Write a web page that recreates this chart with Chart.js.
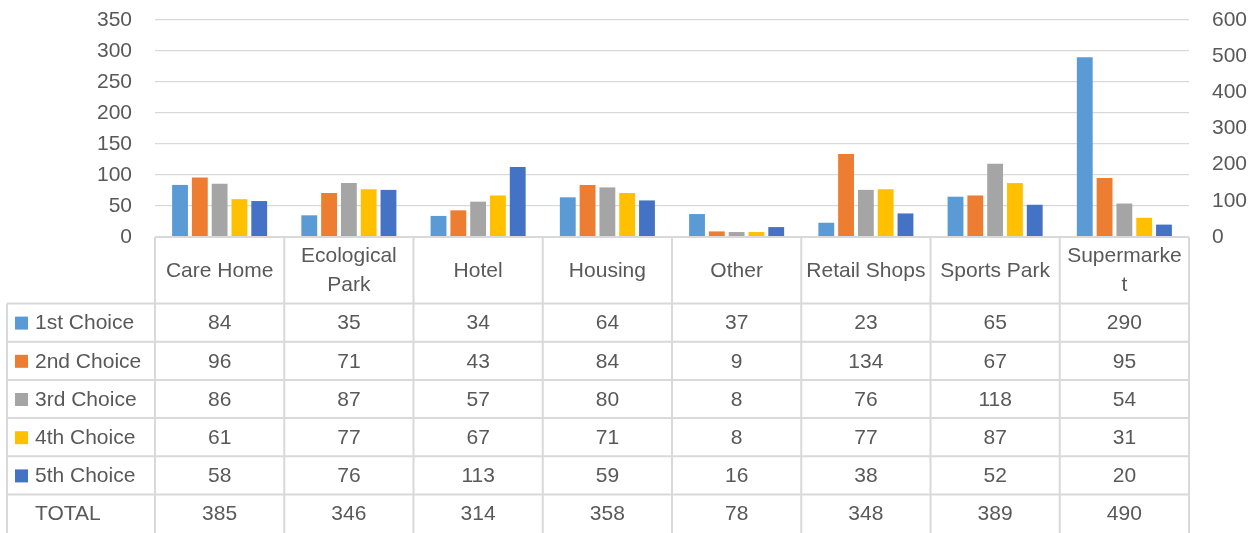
<!DOCTYPE html>
<html>
<head>
<meta charset="utf-8">
<script src="https://cdn.jsdelivr.net/npm/chart.js@4"></script>
<style>
  html, body { margin: 0; padding: 0; background: #fff; }
  #wrap { width: 1260px; height: 533px; position: relative; }
</style>
</head>
<body>
<div id="wrap"><canvas id="c"></canvas></div>
<script>
const categories = ['Care Home', ['Ecological', 'Park'], 'Hotel', 'Housing', 'Other', 'Retail Shops', 'Sports Park', ['Supermarke', 't']];
const seriesNames = ['1st Choice', '2nd Choice', '3rd Choice', '4th Choice', '5th Choice'];
const seriesColors = ['#5B9BD5', '#ED7D31', '#A5A5A5', '#FFC000', '#4472C4'];
const choice1 = [84, 35, 34, 64, 37, 23, 65, 290];
const choice2 = [96, 71, 43, 84, 9, 134, 67, 95];
const choice3 = [86, 87, 57, 80, 8, 76, 118, 54];
const choice4 = [61, 77, 67, 71, 8, 77, 87, 31];
const choice5 = [58, 76, 113, 59, 16, 38, 52, 20];
const totals = [385, 346, 314, 358, 78, 348, 389, 490];
const totalLabel = 'TOTAL';
const leftTicks = { min: 0, max: 350, step: 50 };
const rightTicks = { min: 0, max: 600, step: 100 };

const seriesValues = [choice1, choice2, choice3, choice4, choice5];
const TEXT = '#595959';
const LINE = '#d9d9d9';
const FONT = "'Liberation Sans', Arial, sans-serif";

Chart.defaults.font.family = FONT;
Chart.defaults.font.size = 21;
Chart.defaults.color = TEXT;

const tablePlugin = {
  id: 'dataTable',
  afterDraw(chart) {
    const ctx = chart.ctx;
    const area = chart.chartArea;
    const x = chart.scales.x;
    const n = categories.length;
    const colW = (area.right - area.left) / n;
    const top = area.bottom;
    const headerH = 66.5;
    const rowH = 38.2;
    const tableLeft = 7;
    const rows = seriesNames.length + 1;
    const bottom = chart.height + 2;

    ctx.save();
    ctx.strokeStyle = LINE;
    ctx.lineWidth = 2;
    ctx.beginPath();
    ctx.moveTo(area.left, top); ctx.lineTo(area.right, top);
    ctx.stroke();
    for (let i = 0; i <= n; i++) {
      const xx = area.left + i * colW;
      ctx.beginPath();
      ctx.moveTo(xx, top); ctx.lineTo(xx, bottom);
      ctx.stroke();
    }
    ctx.beginPath();
    ctx.moveTo(tableLeft, top + headerH); ctx.lineTo(tableLeft, bottom);
    ctx.stroke();
    for (let r = 0; r < rows; r++) {
      const yy = top + headerH + r * rowH;
      ctx.beginPath();
      ctx.moveTo(tableLeft, yy); ctx.lineTo(area.right, yy);
      ctx.stroke();
    }

    ctx.fillStyle = TEXT;
    ctx.font = '21px ' + FONT;
    ctx.textAlign = 'center';
    ctx.textBaseline = 'middle';
    categories.forEach((c, i) => {
      const cx = x.getPixelForValue(i);
      const lines = Array.isArray(c) ? c : [c];
      const lh = 29;
      const cy = top + headerH / 2 + 0.5;
      lines.forEach((ln, k) => {
        ctx.fillText(ln, cx, cy + (k - (lines.length - 1) / 2) * lh);
      });
    });
    seriesNames.forEach((name, r) => {
      const cy = top + headerH + r * rowH + rowH / 2 + 1;
      ctx.fillStyle = seriesColors[r];
      ctx.fillRect(15, cy - 7, 13, 13);
      ctx.fillStyle = TEXT;
      ctx.textAlign = 'left';
      ctx.fillText(name, 35, cy);
      ctx.textAlign = 'center';
      seriesValues[r].forEach((v, i) => {
        ctx.fillText(String(v), x.getPixelForValue(i), cy);
      });
    });
    const ty = top + headerH + seriesNames.length * rowH + rowH / 2 + 1;
    ctx.textAlign = 'left';
    ctx.fillText(totalLabel, 35, ty);
    ctx.textAlign = 'center';
    totals.forEach((v, i) => ctx.fillText(String(v), x.getPixelForValue(i), ty));
    ctx.restore();
  }
};

const datasets = seriesNames.map((name, i) => ({
  type: 'bar',
  label: name,
  data: seriesValues[i],
  backgroundColor: seriesColors[i],
  borderWidth: 0,
  yAxisID: 'y',
  barPercentage: 0.8,
  categoryPercentage: 0.766
}));
datasets.push({
  type: 'line',
  label: totalLabel,
  data: totals,
  yAxisID: 'y2',
  showLine: false,
  pointRadius: 0,
  pointHoverRadius: 0,
  borderColor: 'rgba(0,0,0,0)',
  backgroundColor: 'rgba(0,0,0,0)'
});

function fixPad(s, w) {
  s.width = w;
  s.paddingTop = 0;
  s.paddingBottom = 0;
}

new Chart(document.getElementById('c'), {
  data: { labels: categories, datasets },
  options: {
    responsive: true,
    maintainAspectRatio: false,
    animation: false,
    layout: { padding: { top: 20, bottom: 296, left: 0, right: 0 } },
    plugins: { legend: { display: false }, tooltip: { enabled: false } },
    scales: {
      x: { display: false, offset: true },
      y: {
        position: 'left',
        min: leftTicks.min, max: leftTicks.max,
        ticks: { stepSize: leftTicks.step, padding: 23, color: TEXT, font: { size: 21 } },
        grid: { color: LINE, lineWidth: 1.3, drawTicks: false },
        border: { display: false },
        afterFit(s) { fixPad(s, 155); }
      },
      y2: {
        position: 'right',
        min: rightTicks.min, max: rightTicks.max,
        ticks: { stepSize: rightTicks.step, padding: 23, color: TEXT, font: { size: 21 } },
        grid: { display: false, drawTicks: false },
        border: { display: false },
        afterFit(s) { fixPad(s, 71); }
      }
    }
  },
  plugins: [tablePlugin]
});
</script>
</body>
</html>
